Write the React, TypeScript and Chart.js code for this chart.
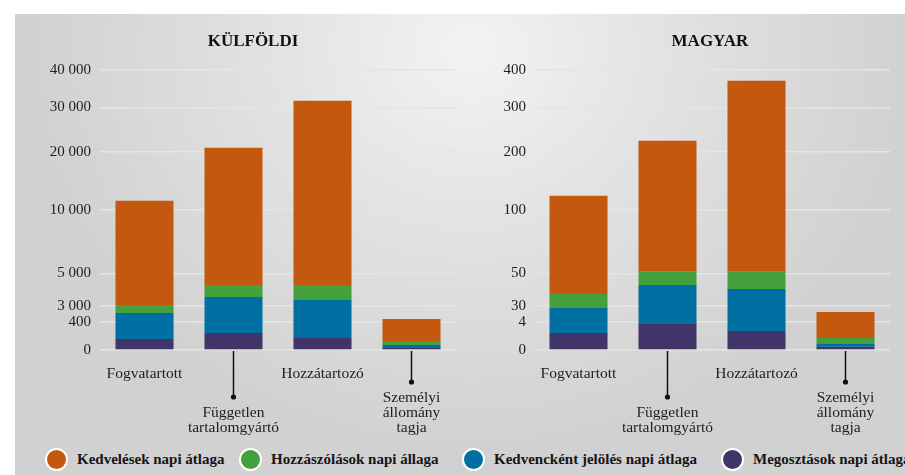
import React, { useEffect, useRef } from 'react';
import { Chart, registerables, LinearScale } from 'chart.js';

Chart.register(...registerables);

// Square-root value axis (the original graphic uses a sqrt-like vertical scale)
class SqrtScale extends LinearScale {
  static id = 'sqrt';
  getPixelForValue(value: number) {
    const max = (this as any).max || 1;
    const v = Math.max(0, Math.min(Number(value) || 0, max));
    return this.getPixelForDecimal(Math.sqrt(v / max));
  }
  getValueForPixel(pixel: number) {
    const d = this.getDecimalForPixel(pixel);
    return d * d * (this as any).max;
  }
}
Chart.register(SqrtScale as any);

// ---------------- DATA ----------------
const categoryLines: string[][] = [
  ['Fogvatartott'],
  ['Független', 'tartalomgyártó'],
  ['Hozzátartozó'],
  ['Személyi', 'állomány', 'tagja'],
];

const seriesNames = [
  'Kedvelések napi átlaga',
  'Hozzászólások napi állaga',
  'Kedvencként jelölés napi átlaga',
  'Megosztások napi átlaga',
];

// Külföldi (foreign)
const kulfoldiLikes = [10317, 18704, 29542, 450];
const kulfoldiComments = [335, 724, 882, 28];
const kulfoldiFavorites = [638, 1288, 1204, 11];
const kulfoldiShares = [62, 148, 74, 2];
const kulfoldiMax = 40000;
const kulfoldiTickValues = [0, 400, 1000, 3000, 10000, 20000, 30000, 40000];
const kulfoldiTickLabels = ['0', '400', '3 000', '5 000', '10 000', '20 000', '30 000', '40 000'];

// Magyar (Hungarian)
const magyarLikes = [105.3, 192, 338.7, 6.6];
const magyarComments = [7.0, 9.7, 12.3, 0.56];
const magyarFavorites = [7.54, 18.1, 17.1, 0.13];
const magyarShares = [1.48, 3.46, 1.85, 0.05];
const magyarMax = 400;
const magyarTickValues = [0, 4, 10, 30, 100, 200, 300, 400];
const magyarTickLabels = ['0', '4', '30', '50', '100', '200', '300', '400'];

// ---------------- STYLE ----------------
const COLORS = {
  likes: '#c4580e',
  comments: '#43a03d',
  favorites: '#006fa1',
  shares: '#403468',
};
const legendColors = [COLORS.likes, COLORS.comments, COLORS.favorites, COLORS.shares];
const legendLeft = [45, 239, 462, 721];
const FONT = '"Liberation Serif", "DejaVu Serif", serif';

const xLabelPlugin = {
  id: 'xLabels',
  afterDraw(chart: any) {
    const { ctx, chartArea, scales } = chart;
    const xs = scales.x;
    const b = chartArea.bottom;
    ctx.save();
    ctx.font = `15.5px ${FONT}`;
    ctx.textAlign = 'center';
    ctx.textBaseline = 'middle';
    categoryLines.forEach((lines, i) => {
      const px = xs.getPixelForValue(i);
      if (i % 2 === 0) {
        ctx.fillStyle = '#1e1e1e';
        lines.forEach((l, j) => ctx.fillText(l, px, b + 24 + j * 15));
      } else {
        const first = b + 78 - (lines.length - 1) * 15;
        const dotY = first - 16;
        ctx.strokeStyle = '#111';
        ctx.lineWidth = 1.5;
        ctx.beginPath();
        ctx.moveTo(px, b + 1);
        ctx.lineTo(px, dotY);
        ctx.stroke();
        ctx.fillStyle = '#111';
        ctx.beginPath();
        ctx.arc(px, dotY, 2.6, 0, Math.PI * 2);
        ctx.fill();
        ctx.fillStyle = '#1e1e1e';
        lines.forEach((l, j) => ctx.fillText(l, px, first + j * 15));
      }
    });
    ctx.restore();
  },
};

function makeConfig(
  likes: number[], comments: number[], favorites: number[], shares: number[],
  max: number, tickValues: number[], tickLabels: string[], axisWidth: number, rightPad: number, tickPad: number
): any {
  const ds = (label: string, data: number[], color: string) => ({
    label, data, backgroundColor: color, borderWidth: 0,
    barPercentage: 0.652, categoryPercentage: 1,
  });
  return {
    type: 'bar',
    data: {
      labels: categoryLines.map((l) => l.join(' ')),
      datasets: [
        ds(seriesNames[3], shares, COLORS.shares),
        ds(seriesNames[2], favorites, COLORS.favorites),
        ds(seriesNames[1], comments, COLORS.comments),
        ds(seriesNames[0], likes, COLORS.likes),
      ],
    },
    options: {
      animation: false,
      responsive: false,
      maintainAspectRatio: false,
      layout: { padding: { top: 56, right: rightPad, bottom: 0, left: 0 } },
      plugins: {
        legend: { display: false },
        tooltip: { enabled: false },
        title: { display: false },
      },
      scales: {
        x: {
          stacked: true,
          grid: { display: false },
          border: { display: false },
          ticks: { display: false },
          afterFit: (s: any) => { s.height = 85; },
        },
        y: {
          type: 'sqrt',
          stacked: true,
          min: 0,
          max,
          afterBuildTicks: (s: any) => { s.ticks = tickValues.map((v) => ({ value: v })); },
          afterFit: (s: any) => { s.width = axisWidth; },
          ticks: {
            callback: (_v: any, i: number) => tickLabels[i],
            font: { family: FONT, size: 15 },
            color: '#1e1e1e',
            padding: tickPad,
          },
          grid: { color: '#e4e5e4', lineWidth: 1.5, drawTicks: false },
          border: { display: false },
        },
      },
    },
    plugins: [xLabelPlugin],
  };
}

export default function App() {
  const leftRef = useRef<HTMLCanvasElement>(null);
  const rightRef = useRef<HTMLCanvasElement>(null);

  useEffect(() => {
    const c1 = new Chart(leftRef.current!, makeConfig(
      kulfoldiLikes, kulfoldiComments, kulfoldiFavorites, kulfoldiShares,
      kulfoldiMax, kulfoldiTickValues, kulfoldiTickLabels, 85, 14, 9));
    const c2 = new Chart(rightRef.current!, makeConfig(
      magyarLikes, magyarComments, magyarFavorites, magyarShares,
      magyarMax, magyarTickValues, magyarTickLabels, 64, 15, 8));
    return () => { c1.destroy(); c2.destroy(); };
  }, []);

  const titleStyle = (cx: number): React.CSSProperties => ({
    position: 'absolute', left: cx - 15 - 100, top: 41 - 14 - 11, width: 200, height: 22,
    lineHeight: '22px', textAlign: 'center', fontFamily: FONT, fontWeight: 'bold',
    fontSize: 17, color: '#111',
  });

  return (
    <div style={{ position: 'fixed', left: 0, top: 0, width: 905, height: 475, background: '#ffffff', overflow: 'hidden' }}>
      <div style={{
        position: 'absolute', left: 15, top: 14, width: 890, height: 461, overflow: 'hidden',
        background: 'radial-gradient(ellipse 440px 400px at 455px 36px, #f2f3f3 0%, #e3e4e3 40%, #d0d1d0 100%)',
      }}>
        <canvas ref={leftRef} width={455} height={421}
          style={{ position: 'absolute', left: 0, top: 0, width: 455, height: 421 }} />
        <canvas ref={rightRef} width={435} height={421}
          style={{ position: 'absolute', left: 455, top: 0, width: 435, height: 421 }} />
        <div style={titleStyle(253)}>KÜLFÖLDI</div>
        <div style={titleStyle(710)}>MAGYAR</div>
        {seriesNames.map((name, i) => (
          <div key={name} style={{
            position: 'absolute', left: legendLeft[i] - 15, top: 459 - 14 - 12, height: 24,
            display: 'flex', alignItems: 'center', whiteSpace: 'nowrap',
          }}>
            <span style={{
              display: 'inline-block', width: 19, height: 19, borderRadius: '50%',
              background: legendColors[i], border: '2px solid #ffffff',
            }} />
            <span style={{
              marginLeft: 9, fontFamily: FONT, fontWeight: 'bold', fontSize: 15, color: '#151515',
            }}>{name}</span>
          </div>
        ))}
      </div>
    </div>
  );
}
